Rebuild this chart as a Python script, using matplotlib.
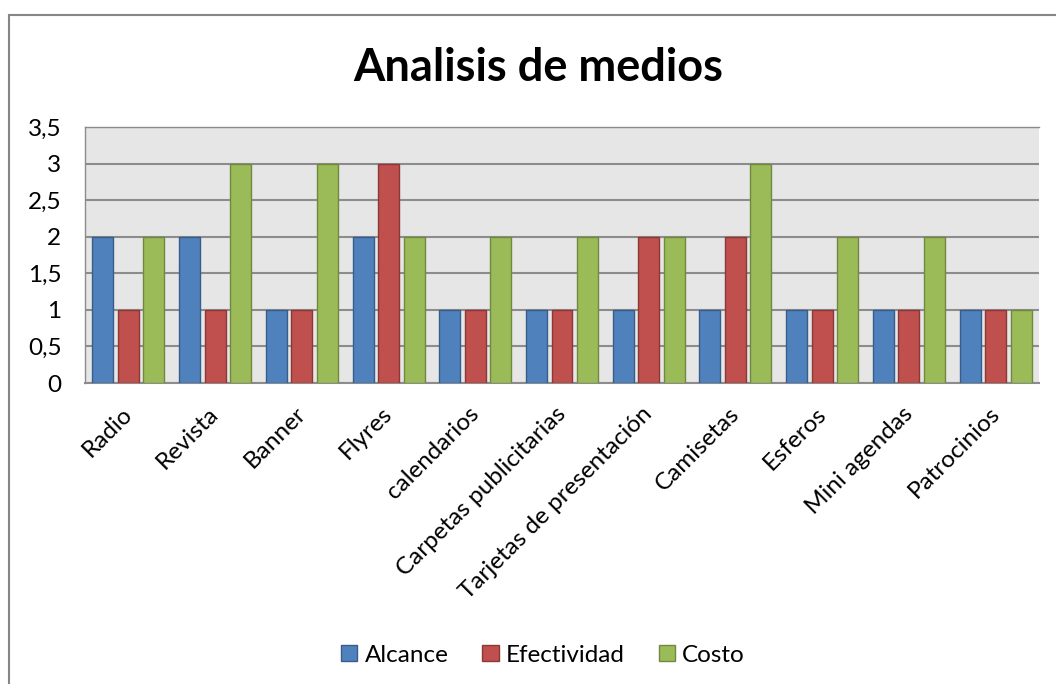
import matplotlib
matplotlib.use("Agg")
import matplotlib.pyplot as plt
import matplotlib.transforms as mtransforms
import numpy as np
from matplotlib.patches import Rectangle

categories = ["Radio", "Revista", "Banner", "Flyres", "calendarios",
              "Carpetas publicitarias", "Tarjetas de presentación",
              "Camisetas", "Esferos", "Mini agendas", "Patrocinios"]
alcance = [2, 2, 1, 2, 1, 1, 1, 1, 1, 1, 1]
efectividad = [1, 1, 1, 3, 1, 1, 2, 2, 1, 1, 1]
costo = [2, 3, 3, 2, 2, 2, 2, 3, 2, 2, 1]
series_names = ["Alcance", "Efectividad", "Costo"]
yticks = [0, 0.5, 1, 1.5, 2, 2.5, 3, 3.5]
ytick_labels = ["0", "0,5", "1", "1,5", "2", "2,5", "3", "3,5"]

fills = ["#4F81BD", "#C0504D", "#9BBB59"]
edges = ["#385D8A", "#8C3836", "#71893F"]

plt.rcParams['font.family'] = ['Lato', 'DejaVu Sans']

W, H = 1056, 684
fig = plt.figure(figsize=(W / 100, H / 100), dpi=100)
fig.patch.set_facecolor("white")

# outer chart frame (only left and top visible)
fig.add_artist(Rectangle((9 / W, -0.1), 1.2, 1 - 15 / H + 0.1, transform=fig.transFigure,
                         fill=False, edgecolor="#868686", linewidth=1.5))

ax = fig.add_axes([85 / W, 1 - 383 / H, (1039 - 85) / W, (383 - 127) / H])
ax.set_facecolor("#E6E6E6")

x = np.arange(len(categories))
bw = 0.242
off = 0.294
for i, (vals, name) in enumerate(zip([alcance, efectividad, costo], series_names)):
    ax.bar(x + (i - 1) * off, vals, width=bw, color=fills[i], edgecolor=edges[i],
           linewidth=1.0, label=name, zorder=3)

ax.set_xlim(-0.5, len(categories) - 0.5)
ax.set_ylim(0, 3.5)
ax.set_yticks(yticks)
ax.set_yticklabels(ytick_labels, fontsize=17.5)
ax.yaxis.grid(True, color="#8C8C8C", linewidth=1.5, zorder=1)
ax.set_axisbelow(True)
ax.tick_params(axis="y", length=0, pad=17)
ax.tick_params(axis="x", length=0, pad=5)
ax.set_xticks(x)
ax.set_xticklabels(categories, rotation=45, ha="right", rotation_mode="anchor", fontsize=17.5)
shift = mtransforms.ScaledTranslation(-7 / 100, -13 / 100, fig.dpi_scale_trans)
for lbl in ax.get_xticklabels():
    lbl.set_transform(lbl.get_transform() + shift)
for s in ["top", "left"]:
    ax.spines[s].set_color("#8C8C8C")
    ax.spines[s].set_linewidth(1.0)
ax.spines["right"].set_visible(False)
ax.spines["bottom"].set_color("#8C8C8C")
ax.spines["bottom"].set_linewidth(1.5)

fig.text(538 / W, 1 - 68 / H, "Analisis de medios", ha="center", va="center",
         fontsize=32.5, fontweight="bold")

leg = fig.legend(loc="center", bbox_to_anchor=(543 / W, 1 - 655 / H), ncol=3,
                 frameon=False, fontsize=17.5, handlelength=0.66, handleheight=0.66,
                 handletextpad=0.3, columnspacing=1.4)

fig.savefig("out.png", dpi=100, facecolor="white")
